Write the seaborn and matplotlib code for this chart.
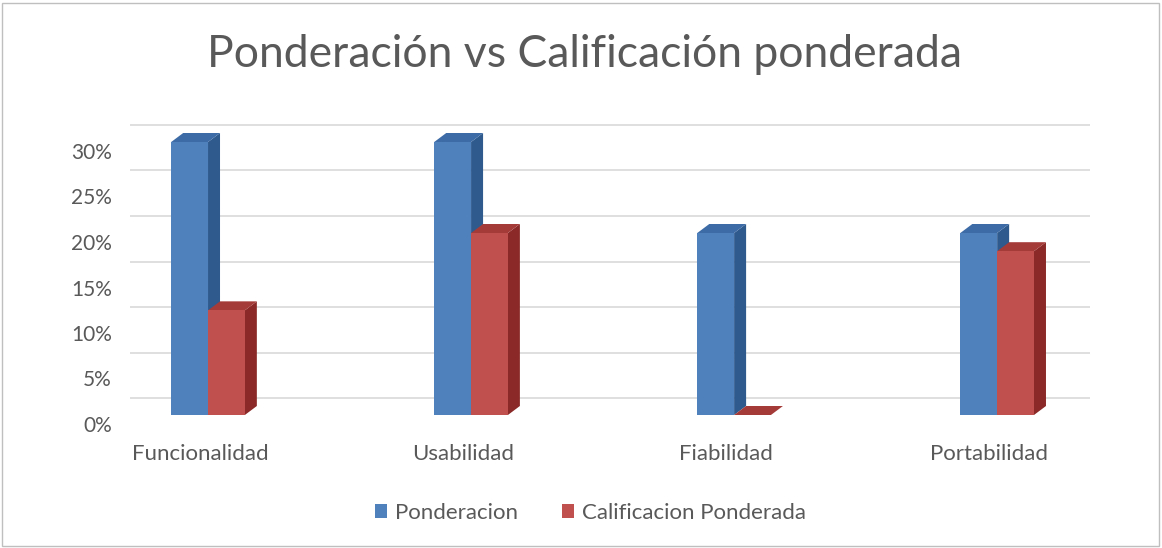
import pandas as pd
import matplotlib
matplotlib.use('Agg')
import matplotlib.pyplot as plt
import matplotlib.transforms as mtransforms
from matplotlib.patches import Polygon, Rectangle
from matplotlib.ticker import PercentFormatter
import seaborn as sns

# Chart data
CATEGORIES = ['Funcionalidad', 'Usabilidad', 'Fiabilidad', 'Portabilidad']
PONDERACION = [0.30, 0.30, 0.20, 0.20]
CALIFICACION = [0.115, 0.20, 0.0, 0.18]
SERIES = ['Ponderacion', 'Calificacion Ponderada']

# Colours (front, side, top)
BLUE = ('#4F81BD', '#2E5A8E', '#3D6BA6')
RED = ('#C0504D', '#8A2927', '#A53B38')
TEXT = '#595959'
DPI = 100

df = pd.DataFrame({
    'Categoria': CATEGORIES * 2,
    'Valor': PONDERACION + CALIFICACION,
    'Serie': [SERIES[0]] * len(CATEGORIES) + [SERIES[1]] * len(CATEGORIES),
})

sns.set_style('white')
plt.rcParams['font.family'] = ['Lato', 'DejaVu Sans']

fig = plt.figure(figsize=(11.62, 5.48), dpi=DPI)
ax = fig.add_axes([130 / 1162, (548 - 415) / 548, 960 / 1162, (415 - 96.5) / 548])

sns.barplot(data=df, x='Categoria', y='Valor', hue='Serie', hue_order=SERIES,
            palette=[BLUE[0], RED[0]], width=0.28, saturation=1, ax=ax,
            linewidth=0, zorder=3)

ax.set_xlim(-0.2966, 3.353)
ax.set_ylim(0, 0.35)

# Pixel -> data conversion for the 3D depth effect
px_per_x = 960 / (3.353 + 0.2966)
px_per_y = (415 - 96.5) / 0.35
dx = 12 / px_per_x
dy = 9 / px_per_y

for i, patch in enumerate(ax.patches[:8]):
    front, side, top = BLUE if i < 4 else RED
    z = 3 if i < 4 else 5
    x, w, h = patch.get_x(), patch.get_width(), patch.get_height()
    patch.set_zorder(z + 0.5)
    ax.add_patch(Polygon([(x + w, 0), (x + w + dx, dy), (x + w + dx, h + dy), (x + w, h)],
                         closed=True, facecolor=side, edgecolor='none', zorder=z))
    ax.add_patch(Polygon([(x, h), (x + dx, h + dy), (x + w + dx, h + dy), (x + w, h)],
                         closed=True, facecolor=top, edgecolor='none', zorder=z))

# Back wall gridlines, shifted up like in the 3D chart
wall = mtransforms.ScaledTranslation(0, 17 / DPI, fig.dpi_scale_trans)
grid_tr = mtransforms.blended_transform_factory(ax.transAxes, ax.transData) + wall
for v in [0, 0.05, 0.10, 0.15, 0.20, 0.25, 0.30]:
    ax.plot([0, 1], [v, v], color='#D9D9D9', linewidth=1.2, transform=grid_tr, zorder=1)

ax.set_yticks([0, 0.05, 0.10, 0.15, 0.20, 0.25, 0.30])
ax.yaxis.set_major_formatter(PercentFormatter(1.0, decimals=0))
ax.tick_params(axis='y', length=0, pad=13, labelsize=15, labelcolor=TEXT)
ax.tick_params(axis='x', length=0, pad=21, labelsize=16, labelcolor=TEXT)
down = mtransforms.ScaledTranslation(0, -9 / DPI, fig.dpi_scale_trans)
for label in ax.get_yticklabels():
    label.set_transform(label.get_transform() + down)
left = mtransforms.ScaledTranslation(-8 / DPI, 0, fig.dpi_scale_trans)
for label in ax.get_xticklabels():
    label.set_transform(label.get_transform() + left)

ax.set_xlabel('')
ax.set_ylabel('')
for spine in ax.spines.values():
    spine.set_visible(False)
ax.set_facecolor('none')

handles, labels = ax.get_legend_handles_labels()
ax.get_legend().remove()
fig.legend(handles, labels, loc='center', bbox_to_anchor=(0.508, 0.064), ncol=2,
           frameon=False, fontsize=16, labelcolor=TEXT, handlelength=0.55,
           handleheight=0.55, handletextpad=0.35, columnspacing=2.0)

fig.suptitle('Ponderación vs Calificación ponderada', x=0.503, y=0.9, va='center',
             fontsize=32, color=TEXT)

# Chart border
fig.add_artist(Rectangle((0.002, 0.004), 0.995, 0.99, transform=fig.transFigure,
                         fill=False, edgecolor='#BFBFBF', linewidth=1))

plt.savefig('out.png', dpi=DPI)
